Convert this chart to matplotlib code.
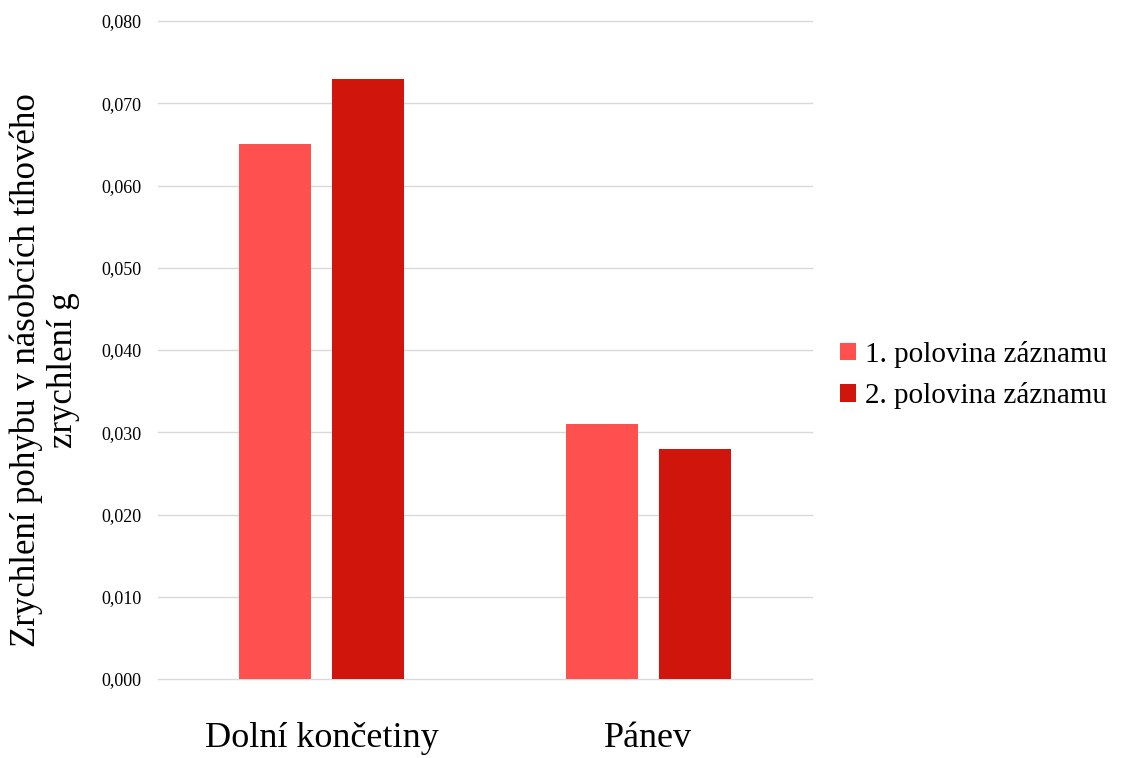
import matplotlib
matplotlib.use("Agg")
import matplotlib.pyplot as plt
import numpy as np

# data
categories = ["Dolní končetiny", "Pánev"]
series_names = ["1. polovina záznamu", "2. polovina záznamu"]
half1 = [0.065, 0.031]
half2 = [0.073, 0.028]
yticks = [0.0, 0.01, 0.02, 0.03, 0.04, 0.05, 0.06, 0.07, 0.08]

plt.rcParams['font.family'] = ['Liberation Serif', 'DejaVu Serif']

fig = plt.figure(figsize=(11.24, 7.58), dpi=100)
ax = fig.add_axes([0.1406, 0.1042, 0.5818, 0.8681])

x = np.arange(len(categories))
w = 0.22
off = 0.1422
ax.bar(x - off, half1, w, color="#FF5050", label=series_names[0], zorder=3)
ax.bar(x + off, half2, w, color="#D0150C", label=series_names[1], zorder=3)

ax.set_xlim(-0.5, 1.5)
ax.set_ylim(0, 0.08)
ax.set_yticks(yticks)
ax.set_yticklabels([f"{v:.3f}".replace(".", ",") for v in yticks], fontsize=13)
ax.set_xticks(x)
ax.set_xticklabels(categories, fontsize=26)
ax.tick_params(axis="both", length=0)
ax.tick_params(axis="y", pad=12)
ax.tick_params(axis="x", pad=31)
ax.grid(axis="y", color="#D9D9D9", linewidth=1, zorder=0)
for line in ax.get_ygridlines():
    line.set_clip_on(False)
for s in ax.spines.values():
    s.set_visible(False)

fig.text(0.040, 0.512, "Zrychlení pohybu v násobcích tíhového\nzrychlení g",
         rotation=90, fontsize=25, ha="center", va="center", multialignment="center",
         linespacing=1.15)

ax.legend(loc="center left", bbox_to_anchor=(1.012, 0.462), frameon=False,
          fontsize=21, handlelength=0.55, handleheight=0.55, handletextpad=0.3,
          labelspacing=0.5, borderpad=0.2)

fig.savefig("out.png", dpi=100)
